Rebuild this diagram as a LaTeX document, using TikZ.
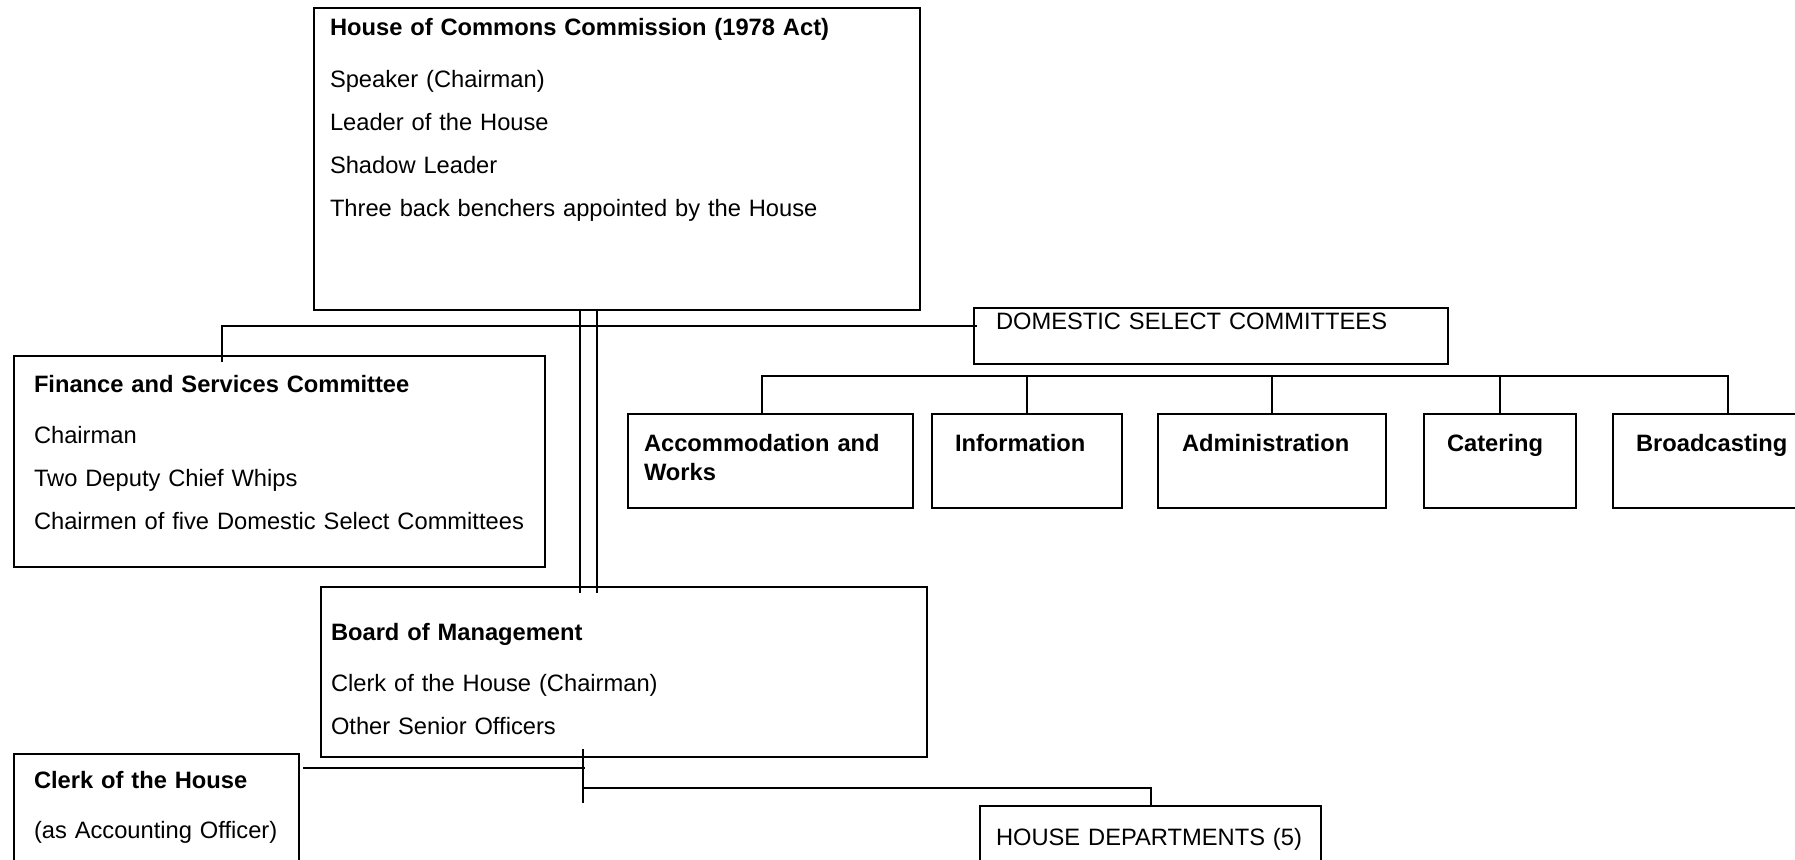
\documentclass[tikz,border=0pt]{standalone}
\usepackage{fontspec}
\setmainfont{Liberation Sans}

\begin{document}
\begin{tikzpicture}[x=0.5pt, y=-0.5pt, line width=1pt,
  every node/.style={font=\fontsize{11.85}{13.8}\selectfont},
  box/.style={draw, line width=1pt, anchor=north west, align=left, inner ysep=0pt},
  com/.style={box, text height=18.5pt, text depth=28.5pt, font=\fontsize{11.85}{13.8}\selectfont\bfseries}]
\useasboundingbox (0,0) rectangle (1795,859);
\clip (0,0) rectangle (1795,859);

% Commission
\node[box, inner xsep=8pt, text width=287pt, text height=13.5pt, text depth=137.5pt] (hcc) at (313,7)
  {\textbf{House of Commons Commission (1978 Act)}\\[12.2pt]
   Speaker (Chairman)\\[7.7pt]
   Leader of the House\\[7.7pt]
   Shadow Leader\\[7.7pt]
   \mbox{Three back benchers appointed by the House}};

% Finance and Services
\node[box, inner xsep=10pt, text width=245.5pt, text height=18pt, text depth=87.5pt] (fsc) at (13,355)
  {\textbf{\mbox{Finance and Services Committee}}\\[11.7pt]
   Chairman\\[7.7pt]
   Two Deputy Chief Whips\\[7.7pt]
   \mbox{Chairmen of five Domestic Select Committees}};

% Domestic committees
\node[box, inner xsep=11pt, text width=215pt, text height=10.5pt, text depth=17.5pt] (dsc) at (973,307)
  {\mbox{DOMESTIC SELECT COMMITTEES}};
\node[com, inner xsep=8pt, text width=126.5pt] (accom) at (627,413) {\mbox{Accommodation and}\\[0.7pt]Works};
\node[com, inner xsep=11.5pt, text width=72pt] (info) at (931,413) {\mbox{Information}};
\node[com, inner xsep=12pt, text width=90pt] (admin) at (1157,413) {\mbox{Administration}};
\node[com, inner xsep=11.5pt, text width=53pt] (cater) at (1423,413) {\mbox{Catering}};
\node[com, inner xsep=11.5pt, text width=92pt] (bcast) at (1612,413) {\mbox{Broadcasting}};

% Board of Management
\node[box, inner xsep=5pt, text width=293pt, text height=26.5pt, text depth=58.5pt] (bom) at (320,586)
  {\textbf{Board of Management}\\[11.7pt]
   Clerk of the House (Chairman)\\[7.7pt]
   Other Senior Officers};

% Clerk and departments
\node[box, inner xsep=10pt, text width=122.5pt, text height=17pt, text depth=46.5pt] (clerk) at (13,753)
  {\textbf{\mbox{Clerk of the House}}\\[11.2pt]
   \mbox{(as Accounting Officer)}};
\node[box, inner xsep=8pt, text width=154.5pt, text height=19.5pt, text depth=18pt] (hd) at (979,805)
  {\mbox{HOUSE DEPARTMENTS (5)}};

% Commission to Board
\foreach \dx in {-18.5pt,-10pt}
  \draw ([xshift=\dx]hcc.south) coordinate (tap) -- (tap |- bom.north) -- ++(0,7);

% Finance to domestic committees
\draw ([xshift=2pt,yshift=5pt]dsc.west) -| ([xshift=-28.75pt,yshift=-3.5pt]fsc.north);

% Committee bar
\coordinate (cbar) at (0,376);
\draw ([xshift=-4.25pt]accom.north) |- (cbar -| bcast.north) -- (bcast.north);
\foreach \c in {info,admin,cater}
  \draw (\c.north) -- (\c.north |- cbar);

% Board to Clerk and departments
\coordinate (bomtap) at ([xshift=-20.5pt]bom.south);
\draw ([yshift=4.5pt]bomtap) -- ([yshift=-22.5pt]bomtap);
\draw ([xshift=1.5pt,yshift=-7.5pt]clerk.north east) coordinate (ck) -- (ck -| bomtap) -- ++(2,0);
\draw ([yshift=-15pt]bomtap) -| (hd.north);
\end{tikzpicture}
\end{document}
